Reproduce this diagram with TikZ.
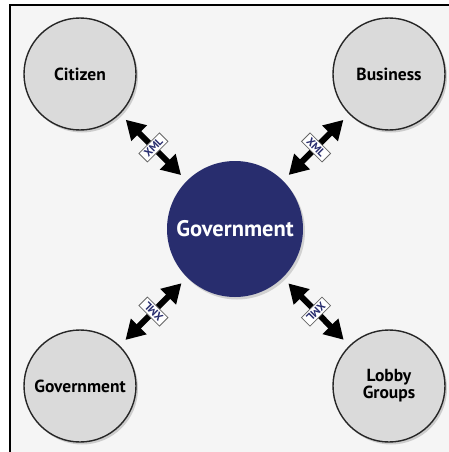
\documentclass[tikz,border=0pt]{standalone}
\usepackage{fontspec}
\setmainfont{PT Sans}
\usetikzlibrary{arrows.meta,shadows}

\definecolor{govblue}{RGB}{40,45,110}
\definecolor{nodegray}{RGB}{218,218,218}
\definecolor{bggray}{RGB}{245,245,245}

\begin{document}
\begin{tikzpicture}[
  x=1pt,y=-1pt,
  pnode/.style={draw=black!85,line width=1.4pt,circle,fill=nodegray,minimum size=112pt,inner sep=0pt,
    align=center,font=\fontsize{17.5}{16}\selectfont\bfseries,
    drop shadow={shadow xshift=2pt,shadow yshift=-2.5pt,opacity=0.35}},
  gnode/.style={circle,fill=govblue,minimum size=136pt,inner sep=0pt,text=white,
    font=\fontsize{22.5}{22}\selectfont\bfseries,
    drop shadow={shadow xshift=2pt,shadow yshift=-2.5pt,opacity=0.3}},
  xmlarrow/.style={line width=6pt,{Triangle[length=19pt,width=21pt]}-{Triangle[length=19pt,width=21pt]},
    shorten <=8pt,shorten >=8pt},
  xmllabel/.style={draw=black!60,line width=0.8pt,fill=white,text=govblue,inner sep=1pt,
    minimum width=29pt,minimum height=12pt,font=\fontsize{11}{11}\selectfont\bfseries}
]
  % frame
  \useasboundingbox (0,0) rectangle (449,452);
  \fill[white] (0,0) rectangle (449,452);
  \fill[bggray] (10,5) rectangle (449,452);
  \draw[line width=2pt] (10,452) -- (10,5) -- (449,5);

  % partners
  \node[pnode] (citizen) at (80,74) {Citizen};
  \node[pnode] (business) at (389,74) {Business};
  \node[pnode] (othergov) at (80,386) {Government};
  \node[pnode] (lobby) at (389,386) {Lobby\\Groups};

  % centre
  \node[gnode] (gov) at (235,229) {Government};

  % xml exchanges
  \draw[xmlarrow] (citizen) -- (gov) node[xmllabel,midway,rotate=45] {XML};
  \draw[xmlarrow] (business) -- (gov) node[xmllabel,midway,rotate=-45] {XML};
  \draw[xmlarrow] (othergov) -- (gov) node[xmllabel,midway,rotate=135] {XML};
  \draw[xmlarrow] (lobby) -- (gov) node[xmllabel,midway,rotate=-135] {XML};

\end{tikzpicture}
\end{document}
